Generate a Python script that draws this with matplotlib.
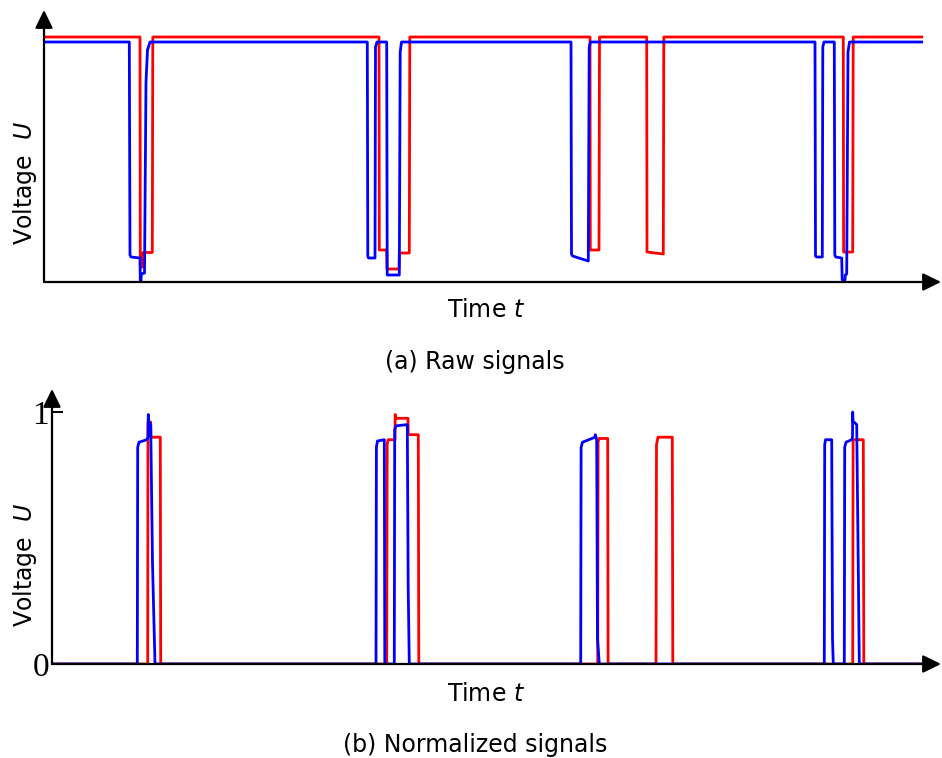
import matplotlib
matplotlib.use("Agg")
import matplotlib.pyplot as plt

# raw signals (top), time in arbitrary units, voltage in arbitrary units
red_raw_t = [1, 96, 96.3, 98.7, 99, 108.3, 108.8,
             335, 335.3, 342.7, 343, 355, 355.3, 365.3, 365.8,
             546, 546.3, 555, 555.5,
             602.7, 603, 619.3, 619.8,
             799.3, 799.6, 808.7, 809.2, 877.7]
red_raw_u = [2.45, 2.45, 0.15, 0.15, 0.295, 0.295, 2.45,
             2.45, 0.32, 0.32, 0.13, 0.13, 0.29, 0.29, 2.45,
             2.45, 0.32, 0.32, 2.45,
             2.45, 0.30, 0.28, 2.45,
             2.45, 0.30, 0.30, 2.45, 2.45]

blue_raw_t = [1, 85.3, 86, 87, 96, 96.3, 97, 97.3, 100.5, 102, 103.5, 106,
              323.3, 323.8, 324.5, 331, 331.5, 333, 342.7, 343.2, 355.3, 356.2, 357.5,
              527, 527.5, 528.5, 544.3, 545.2, 546.5,
              771, 771.5, 772.5, 778.3, 778.8, 780,
              790.3, 790.8, 791.8, 797.7, 798.2, 801, 801.3, 802.7, 804, 805.5, 877.7]
blue_raw_u = [2.40, 2.40, 0.27, 0.25, 0.24, 0.01, 0.01, 0.08, 0.09, 2.0, 2.32, 2.40,
              2.40, 0.26, 0.24, 0.24, 2.35, 2.40, 2.40, 0.07, 0.07, 2.30, 2.40,
              2.40, 0.28, 0.26, 0.21, 2.35, 2.40,
              2.40, 0.26, 0.25, 0.25, 2.35, 2.40,
              2.40, 0.27, 0.25, 0.24, 0.02, 0.02, 0.07, 0.08, 2.30, 2.40, 2.40]

# normalized signals (bottom)
red_norm_t = [1, 95.7, 96, 98.7, 98.9, 108.3, 108.7,
              334.7, 335.2, 336, 343, 343.2, 343.7, 356, 356.2, 366.3, 366.8,
              545.7, 546.1, 547, 555.7, 556.1,
              604, 604.5, 606, 620.3, 620.8,
              800.7, 801.1, 811.3, 811.8, 876]
red_norm_u = [0, 0, 0.96, 0.96, 0.90, 0.90, 0,
              0, 0.87, 0.89, 0.89, 0.99, 0.975, 0.975, 0.91, 0.91, 0,
              0, 0.88, 0.895, 0.895, 0,
              0, 0.87, 0.90, 0.90, 0,
              0, 0.89, 0.89, 0, 0]

blue_norm_t = [1, 85.3, 85.7, 87, 94.7, 96, 96.3, 96.8, 97.5, 98.7, 100.5, 103,
               324, 324.4, 325.5, 332.3, 332.8, 342.3, 342.7, 344, 355.3, 356.2, 357.3,
               528.7, 529.1, 530.5, 543, 543.3, 544.7, 545.5, 547.3,
               772.3, 772.7, 773.5, 779.7, 780.5, 781.3,
               792.3, 792.7, 794, 799.7, 800.5, 800.7, 801, 802, 804.7, 806.5, 807.3, 876]
blue_norm_u = [0, 0, 0.86, 0.88, 0.89, 0.90, 0.99, 0.93, 0.96, 0.95, 0.4, 0,
               0, 0.86, 0.885, 0.89, 0, 0, 0.93, 0.945, 0.95, 0.3, 0,
               0, 0.86, 0.88, 0.90, 0.91, 0.89, 0.1, 0,
               0, 0.87, 0.89, 0.89, 0.1, 0,
               0, 0.86, 0.88, 0.89, 0.90, 1.0, 0.96, 0.96, 0.95, 0.3, 0, 0]

plt.rcParams['font.family'] = ['DejaVu Sans']
fs = 17

fig = plt.figure(figsize=(9.42, 7.58), dpi=100)
W, H = 942.0, 758.0


def arrow_axes(ax):
    for s in ax.spines.values():
        s.set_visible(False)
    style = '-|>,head_length=0.55,head_width=0.27'
    for tip in [(1, 0), (0, 1)]:
        ax.annotate('', xy=tip, xytext=(0, 0), xycoords='axes fraction',
                    arrowprops=dict(arrowstyle=style, color='black', lw=1.6,
                                    mutation_scale=20, shrinkA=0, shrinkB=0),
                    annotation_clip=False)


# (a) raw signals
ax1 = fig.add_axes([44 / W, 1 - 282 / H, (941 - 44) / W, (282 - 10) / H])
ax1.plot(red_raw_t, red_raw_u, color='#ff0000', lw=2.0)
ax1.plot(blue_raw_t, blue_raw_u, color='#0000ff', lw=2.0)
ax1.set_xlim(0, 897)
ax1.set_ylim(0, 2.72)
ax1.set_xticks([])
ax1.set_yticks([])
arrow_axes(ax1)

# (b) normalized signals
ax2 = fig.add_axes([52 / W, 1 - 664 / H, (941 - 52) / W, (664 - 389) / H])
ax2.plot(red_norm_t, red_norm_u, color='#ff0000', lw=2.0)
ax2.plot(blue_norm_t, blue_norm_u, color='#0000ff', lw=2.0)
ax2.set_xlim(0, 889)
ax2.set_ylim(0, (664 - 389) / 252)
ax2.set_xticks([])
ax2.set_yticks([0, 1])
ax2.set_yticklabels(['0', '1'], fontfamily='Liberation Serif', fontsize=24)
ax2.tick_params(axis='y', direction='in', length=8, width=1.4, pad=2)
arrow_axes(ax2)

# labels and captions
fig.text(25 / W, 1 - 245 / H, 'Voltage  $U$', rotation=90, ha='center', va='bottom', fontsize=fs)
fig.text(25 / W, 1 - 627 / H, 'Voltage  $U$', rotation=90, ha='center', va='bottom', fontsize=fs)
fig.text(486 / W, 1 - 310 / H, 'Time $t$', ha='center', va='center', fontsize=fs)
fig.text(486 / W, 1 - 694 / H, 'Time $t$', ha='center', va='center', fontsize=fs)
fig.text(475 / W, 1 - 362 / H, '(a) Raw signals', ha='center', va='center', fontsize=fs)
fig.text(475 / W, 1 - 745 / H, '(b) Normalized signals', ha='center', va='center', fontsize=fs)

fig.savefig('out.png', dpi=100)
